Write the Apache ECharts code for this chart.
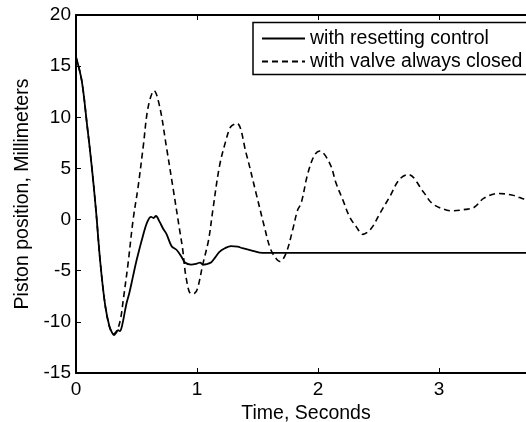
<!DOCTYPE html>
<html>
<head>
<meta charset="utf-8">
<script src="https://cdn.jsdelivr.net/npm/echarts@6/dist/echarts.min.js"></script>
<style>
html,body{margin:0;padding:0;background:#fff;}
#c{width:526px;height:422px;}
</style>
</head>
<body>
<div id="c"></div>
<script>
// Time (s) and piston position (mm)
var tReset = [0, 0.047, 0.093, 0.13, 0.165, 0.2, 0.24, 0.275, 0.3, 0.313, 0.335, 0.348, 0.362, 0.38, 0.417, 0.44, 0.47, 0.5, 0.555, 0.59, 0.62, 0.64, 0.66, 0.69, 0.72, 0.747, 0.79, 0.83, 0.87, 0.9, 0.95, 1.0, 1.025, 1.05, 1.08, 1.115, 1.15, 1.185, 1.23, 1.28, 1.335, 1.375, 1.46, 1.54, 3.8];
var vReset = [15.9, 13.6, 9.1, 5.2, 0.9, -4.1, -8.3, -10.4, -11.1, -11.3, -11.0, -10.8, -10.9, -10.4, -8.2, -7.2, -5.6, -4.0, -1.5, -0.2, 0.27, 0.15, 0.35, -0.2, -0.9, -1.4, -2.6, -2.95, -3.6, -4.2, -4.4, -4.3, -4.2, -4.4, -4.35, -4.2, -3.7, -3.15, -2.8, -2.6, -2.65, -2.8, -3.05, -3.25, -3.25];

var tClosed = [0, 0.047, 0.093, 0.13, 0.165, 0.2, 0.24, 0.275, 0.31, 0.33, 0.348, 0.37, 0.39, 0.43, 0.472, 0.513, 0.555, 0.596, 0.645, 0.692, 0.747, 0.8, 0.856, 0.88, 0.91, 0.95, 0.98, 1.005, 1.047, 1.095, 1.13, 1.185, 1.24, 1.28, 1.33, 1.405, 1.487, 1.556, 1.6, 1.64, 1.685, 1.735, 1.79, 1.83, 1.86, 1.915, 1.97, 2.013, 2.096, 2.15, 2.205, 2.26, 2.315, 2.37, 2.44, 2.51, 2.59, 2.67, 2.745, 2.87, 2.94, 3.04, 3.1, 3.22, 3.29, 3.37, 3.49, 3.6, 3.7, 3.8];
var vClosed = [15.9, 13.6, 9.1, 5.2, 0.9, -4.1, -8.3, -10.4, -11.2, -11.0, -10.6, -9.6, -7.9, -4.3, 0.0, 3.2, 7.1, 11.0, 12.6, 11.0, 7.1, 3.2, -1.0, -2.8, -5.7, -7.25, -7.2, -6.7, -4.4, -2.0, 0.9, 5.2, 7.8, 9.1, 9.4, 6.5, 2.6, -0.7, -2.65, -3.6, -4.1, -3.3, -1.0, 0.9, 1.6, 4.5, 6.3, 6.7, 5.5, 3.5, 1.9, 0.27, -0.7, -1.45, -0.86, 0.6, 2.2, 3.9, 4.4, 2.7, 1.6, 1.0, 0.86, 1.0, 1.2, 2.1, 2.55, 2.4, 2.0, 1.6];

var seriesNames = ['with resetting control', 'with valve always closed'];
var xTicks = [0, 1, 2, 3];
var yTicks = [-15, -10, -5, 0, 5, 10, 15, 20];

function pairs(t, v) { return t.map(function (x, i) { return [x, v[i]]; }); }

var FONT = "'Liberation Sans', Arial, Helvetica, sans-serif";
var chart = echarts.init(document.getElementById('c'), null, { renderer: 'canvas' });

function axisCommon() {
  return {
    axisLine: { show: true, onZero: false, lineStyle: { color: '#000', width: 2 } },
    axisTick: { show: true, inside: true, length: 5, lineStyle: { color: '#000', width: 1 } },
    splitLine: { show: false }
  };
}

chart.setOption({
  backgroundColor: '#fff',
  animation: false,
  grid: { left: 76, top: 15, bottom: 49, right: -10, containLabel: false, outerBoundsMode: 'none' },
  legend: {
    orient: 'vertical',
    left: 253,
    top: 22.5,
    padding: [6, 12, 3, 8],
    itemGap: 3,
    itemWidth: 43,
    itemHeight: 14,
    borderColor: '#000',
    borderWidth: 1.5,
    backgroundColor: '#fff',
    itemStyle: { opacity: 0 },
    textStyle: { fontFamily: FONT, fontSize: 19.5, color: '#000', lineHeight: 20, padding: [0, 0, 0, 0] },
    data: seriesNames
  },
  xAxis: [
    Object.assign({
      type: 'value', min: 0, max: 3.8, interval: 1, position: 'bottom',
      name: 'Time, Seconds', nameLocation: 'middle', nameGap: 24,
      nameTextStyle: { fontFamily: FONT, fontSize: 19.5, color: '#000' },
      axisLabel: {
        fontFamily: FONT, fontSize: 19, color: '#000', margin: 7, showMaxLabel: false,
        formatter: function (v) { return xTicks.indexOf(v) >= 0 ? String(v) : ''; }
      }
    }, axisCommon()),
    Object.assign({
      type: 'value', min: 0, max: 3.8, interval: 1, position: 'top',
      axisLabel: { show: false }
    }, axisCommon())
  ],
  yAxis: [
    Object.assign({
      type: 'value', min: -15, max: 20, interval: 5,
      name: 'Piston position, Millimeters', nameLocation: 'middle', nameGap: 42,
      nameTextStyle: { fontFamily: FONT, fontSize: 19.5, color: '#000' },
      axisLabel: {
        fontFamily: FONT, fontSize: 19, color: '#000', margin: 5,
        formatter: function (v) { return yTicks.indexOf(v) >= 0 ? String(v) : ''; }
      }
    }, axisCommon())
  ],
  series: [
    {
      name: seriesNames[0], type: 'line', xAxisIndex: 0, yAxisIndex: 0,
      data: pairs(tReset, vReset), showSymbol: false, symbol: 'none', smooth: 0.35,
      lineStyle: { color: '#000', width: 1.8, type: 'solid' },
      itemStyle: { color: '#000' }
    },
    {
      name: seriesNames[1], type: 'line', xAxisIndex: 0, yAxisIndex: 0,
      data: pairs(tClosed, vClosed), showSymbol: false, symbol: 'none', smooth: 0.35,
      lineStyle: { color: '#000', width: 1.6, type: [6, 4] },
      itemStyle: { color: '#000' }
    }
  ]
});
</script>
</body>
</html>
